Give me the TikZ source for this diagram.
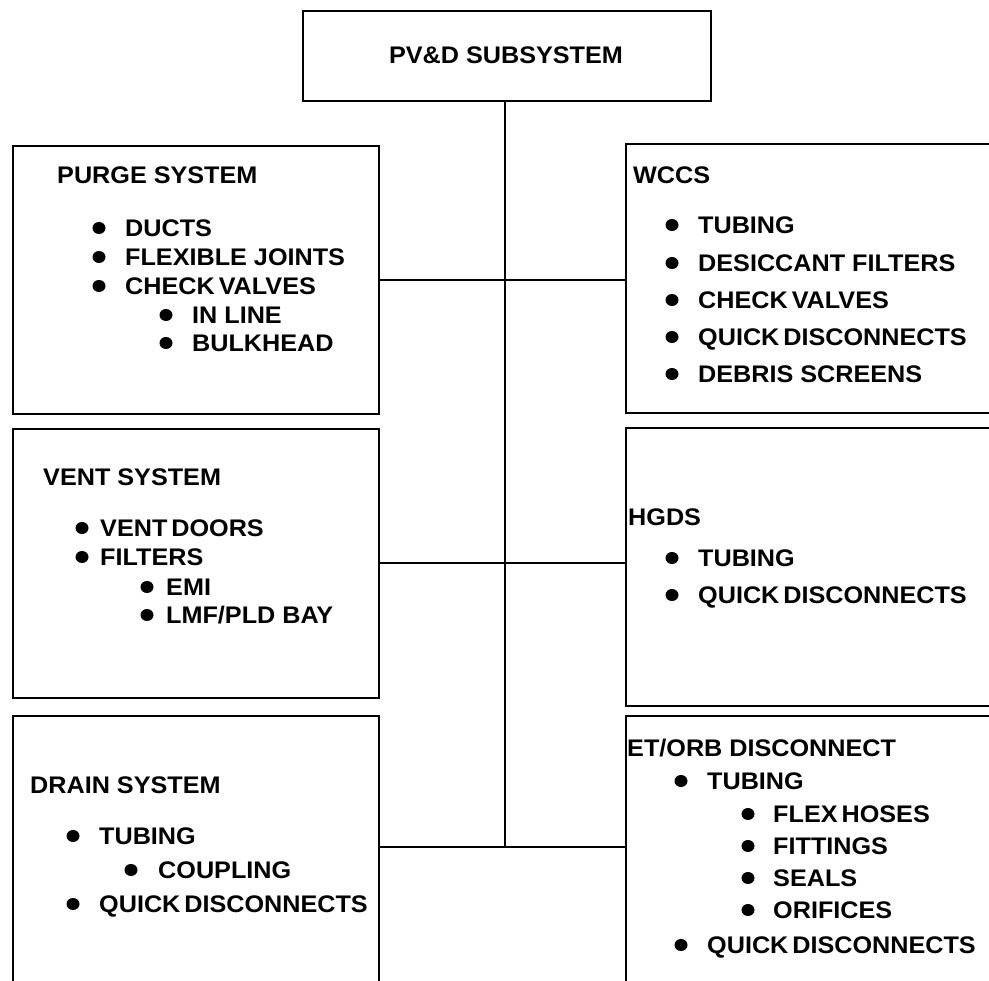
\documentclass[tikz,border=0pt]{standalone}
\usepackage{fontspec}
\setmainfont{Liberation Sans}[FakeStretch=1.05]
\newcommand{\bitem}[5]{%
  \fill (#2,#4) ellipse [x radius=6.5, y radius=6];
  \node[itemtext] (#1) at (#3,{#4+8.5}) {#5};}
\begin{document}
\begin{tikzpicture}[x=1pt,y=-1pt,
  box/.style={draw, line width=1.8pt, inner sep=0pt, anchor=north west},
  conn/.style={line width=1.8pt},
  itemtext/.style={anchor=base west, inner sep=0pt, font=\bfseries\fontsize{24}{28}\selectfont}]
\useasboundingbox (0,0) rectangle (989,981);
\clip (0,0) rectangle (989,981);
\fill[white] (0,0) rectangle (989,981);
% boxes
\node[box, minimum width=408pt, minimum height=90pt] (top) at (302,10) {};
\node[itemtext, anchor=center] (toptext) at (506,55) {PV\&D SUBSYSTEM};
\node[box, minimum width=366pt, minimum height=268pt] (purge) at (12,145) {};
\node[box, minimum width=400pt, minimum height=269pt] (wccs) at (625,143) {};
\node[box, minimum width=366pt, minimum height=269pt] (vent) at (12,428) {};
\node[box, minimum width=400pt, minimum height=278pt] (hgds) at (625,427) {};
\node[box, minimum width=366pt, minimum height=300pt] (drain) at (12,715) {};
\node[box, minimum width=400pt, minimum height=300pt] (etorb) at (625,715) {};
% connectors
\coordinate (j1) at (505,280);
\coordinate (j2) at (505,563);
\coordinate (j3) at (505,847);
\draw[conn] (top.south -| j3) -- (j3);
\draw[conn] (purge.east |- j1) -- (wccs.west |- j1);
\draw[conn] (vent.east |- j2) -- (hgds.west |- j2);
\draw[conn] (drain.east |- j3) -- (etorb.west |- j3);
% PURGE
\node[itemtext] (purget) at (57,183.5) {PURGE SYSTEM};
\bitem{p1}{99}{125}{228}{DUCTS}
\bitem{p2}{99}{125}{257}{FLEXIBLE JOINTS}
\bitem{p3}{99}{125}{286}{CHECK\thinspace VALVES}
\bitem{p4}{166}{192}{315}{IN LINE}
\bitem{p5}{166}{192}{343}{BULKHEAD}
% WCCS
\node[itemtext] (wccst) at (633,183.5) {WCCS};
\bitem{w1}{672}{698}{225}{TUBING}
\bitem{w2}{672}{698}{263}{DESICCANT FILTERS}
\bitem{w3}{672}{698}{300}{CHECK\thinspace VALVES}
\bitem{w4}{672}{698}{337}{QUICK\thinspace DISCONNECTS}
\bitem{w5}{672}{698}{374}{DEBRIS SCREENS}
% VENT
\node[itemtext] (ventt) at (43,485.5) {VENT SYSTEM};
\bitem{v1}{82}{100}{528}{VENT\thinspace DOORS}
\bitem{v2}{82}{100}{557}{FILTERS}
\bitem{v3}{147}{166}{587}{EMI}
\bitem{v4}{147}{166}{615}{LMF/PLD BAY}
% HGDS
\node[itemtext] (hgdst) at (628,525.5) {HGDS};
\bitem{h1}{672}{698}{558}{TUBING}
\bitem{h2}{672}{698}{595}{QUICK\thinspace DISCONNECTS}
% DRAIN
\node[itemtext] (draint) at (30,793.5) {DRAIN SYSTEM};
\bitem{d1}{73}{99}{836}{TUBING}
\bitem{d2}{131}{158}{870}{COUPLING}
\bitem{d3}{73}{99}{904}{QUICK\thinspace DISCONNECTS}
% ET/ORB
\node[itemtext] (etorbt) at (627,756.5) {ET/ORB DISCONNECT};
\bitem{e1}{681}{707}{781}{TUBING}
\bitem{e2}{748}{773}{814}{FLEX\thinspace HOSES}
\bitem{e3}{748}{773}{846}{FITTINGS}
\bitem{e4}{748}{773}{878}{SEALS}
\bitem{e5}{748}{773}{910}{ORIFICES}
\bitem{e6}{681}{707}{945}{QUICK\thinspace DISCONNECTS}
\end{tikzpicture}
\end{document}
